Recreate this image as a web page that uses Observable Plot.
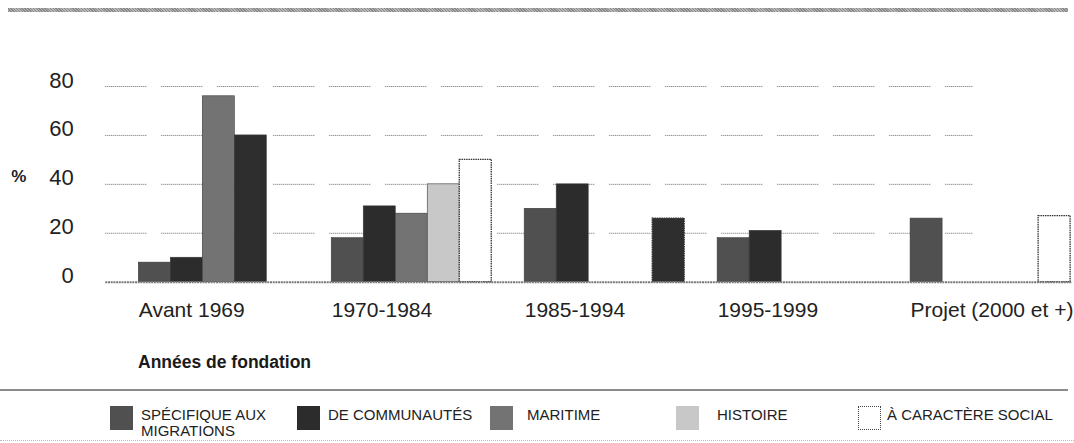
<!DOCTYPE html>
<html>
<head>
<meta charset="utf-8">
<script src="https://cdn.jsdelivr.net/npm/d3@7"></script>
<script src="https://cdn.jsdelivr.net/npm/@observablehq/plot@0.6"></script>
<style>
  html, body { margin: 0; padding: 0; background: #fff; }
  #wrap { position: relative; width: 1074px; height: 443px; overflow: hidden; font-family: "Liberation Sans", Arial, sans-serif; color: #222; }
  #chart { position: absolute; left: 0; top: 0; }
  .abs { position: absolute; }
  .topband { left: 8px; top: 8px; width: 1060px; height: 4px;
    background: repeating-linear-gradient(45deg, #8a8a8a 0 1px, #b8b8b8 1px 2px); }
  .title { left: 138px; top: 352px; font-size: 17.5px; font-weight: bold; line-height: 20px; color: #1a1a1a; }
  .sep { left: 0; top: 389px; width: 1068px; height: 1.5px; background: #8c8c8c; }
  .bottom { left: 0; top: 440px; width: 1074px; height: 0; border-top: 1px dotted #bbb; }
  .sw { top: 406px; width: 23px; height: 24px; box-sizing: border-box; }
  .lt { top: 407px; font-size: 15px; line-height: 16px; color: #222; }
</style>
</head>
<body>
<div id="wrap">
  <div id="chart"></div>
  <div class="abs topband"></div>
  <div class="abs title" id="xtitle"></div>
  <div class="abs sep"></div>
  <div class="abs bottom"></div>
  <div id="legend"></div>
</div>
<script>
// ---- data ----
const groups = ["Avant 1969", "1970-1984", "1985-1994", "1995-1999", "Projet (2000 et +)"];
const series = ["SPÉCIFIQUE AUX MIGRATIONS", "DE COMMUNAUTÉS", "MARITIME", "HISTOIRE", "À CARACTÈRE SOCIAL"];
const specifique  = [8, 18, 30, 18, 26];
const communautes = [10, 31, 40, 21, null];
const maritime    = [76, 28, null, null, null];
const histoire    = [60, 40, null, null, null];
const social      = [null, 50, 26, null, 27];
const yTicks = [0, 20, 40, 60, 80];
const xTitle = "Années de fondation";
const yLabel = "%";

// ---- styles (kept apart from data) ----
const seriesFill = ["#505050", "#2c2c2c", "#737373", "#c8c8c8", "#ffffff"];
// bars printed in a different shade in the original
const printedShade = {"Avant 1969|HISTOIRE": "#2e2e2e", "1985-1994|À CARACTÈRE SOCIAL": "#2e2e2e"};

const valuesBySeries = [specifique, communautes, maritime, histoire, social];
const rows = [];
series.forEach((s, i) => groups.forEach((g, j) => {
  const v = valuesBySeries[i][j];
  if (v != null) rows.push({group: g, series: s, si: i, value: v});
}));
const fillOf = d => printedShade[d.group + "|" + d.series] || seriesFill[d.si];

// ---- layout ----
const W = 1074, H = 340;
const mL = 138.3, mR = 3.9, mT = 86, mB = 58.3;
const pad = 0.1708;
const step = (W - mL - mR) / (groups.length - pad);
const band = step * (1 - pad);
const slot = band / series.length;

const dotted = [];
for (let k = 0; k < 21; k++) dotted.push(1, 1);
dotted[dotted.length - 1] = 15;

const marks = [
  Plot.ruleY(yTicks.filter(t => t > 0), {stroke: "#6a6a6a", strokeWidth: 1, strokeDasharray: dotted.join(","), insetLeft: -33, insetRight: 97}),
  ...series.map((s, i) => Plot.barY(rows.filter(r => r.si === i), {
    x: "group", y: "value", fill: fillOf,
    insetLeft: i * slot, insetRight: (series.length - 1 - i) * slot,
    stroke: i === 4 ? "#333" : "#3a3a3a", strokeWidth: i === 4 ? 1.3 : 0.6,
    strokeDasharray: i === 4 ? "1.5,0.8" : null
  })),
  Plot.ruleY([0], {stroke: "#7a7a7a", strokeWidth: 2, strokeDasharray: "2,0.7", insetLeft: -33, insetRight: -2}),
  Plot.axisY(yTicks, {tickSize: 0, tickPadding: 65, dy: -6, fontSize: 22, label: null}),
  Plot.axisX({tickSize: 0, tickPadding: 20, textAnchor: "start", dx: -band / 2, fontSize: 21, label: null}),
  Plot.text([yLabel], {text: d => d, frameAnchor: "left", y: [40], dx: -120, dy: -8, fontSize: 17, fontWeight: "bold", textAnchor: "middle"})
];

const chart = Plot.plot({
  width: W, height: H,
  marginLeft: mL, marginRight: mR, marginTop: mT, marginBottom: mB,
  style: {fontFamily: "Liberation Sans, Arial, sans-serif", color: "#222", background: "transparent", overflow: "visible"},
  x: {type: "band", domain: groups, paddingInner: pad, paddingOuter: 0, round: false, label: null},
  y: {domain: [0, 80], label: null},
  color: {type: "identity"},
  marks
});
document.getElementById("chart").appendChild(chart);
document.getElementById("xtitle").textContent = xTitle;

// ---- legend ----
const swLeft = [110, 297, 490, 676, 858];
const txLeft = [141, 328, 527, 717, 887];
const txWidth = [135, 160, 90, 90, 180];
const legend = document.getElementById("legend");
series.forEach((s, i) => {
  const sw = document.createElement("div");
  sw.className = "abs sw";
  sw.style.left = swLeft[i] + "px";
  sw.style.background = seriesFill[i];
  if (i === 4) sw.style.border = "1px dotted #444";
  legend.appendChild(sw);
  const t = document.createElement("div");
  t.className = "abs lt";
  t.style.left = txLeft[i] + "px";
  t.style.width = txWidth[i] + "px";
  t.textContent = s;
  legend.appendChild(t);
});
</script>
</body>
</html>
